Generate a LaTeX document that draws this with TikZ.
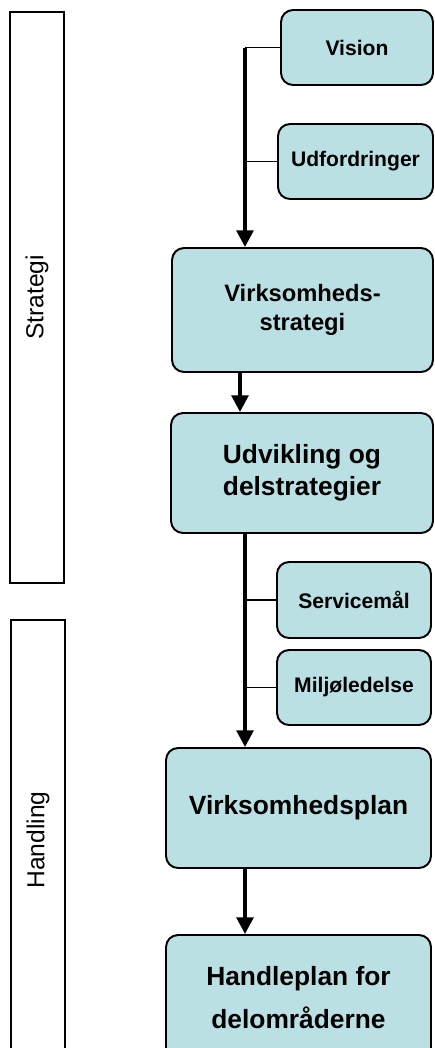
\documentclass[tikz,border=0pt]{standalone}
\usepackage{fontspec}
\setmainfont{Liberation Sans}
\usetikzlibrary{arrows.meta}
\definecolor{boxfill}{RGB}{187,224,227}

\begin{document}
\begin{tikzpicture}[x=0.02cm,y=-0.02cm]
        \tikzset{
        box/.style={rectangle, rounded corners=0.24cm, fill=boxfill, draw,
        line width=1.1pt, align=center},
        sm/.style={box, minimum width=3.08cm, minimum height=1.5cm,
        font=\bfseries\fontsize{12}{14}\selectfont},
        lg/.style={box, minimum width=5.3cm, minimum height=2.4cm,
        font=\bfseries\fontsize{15}{18}\selectfont},
        bar/.style={draw, line width=1.1pt, rotate=90, minimum height=1.08cm,
        font=\fontsize{14}{17}\selectfont},
        c1/.style={line width=1.1pt},
        c2/.style={line width=2.1pt, -{Triangle[length=9.5pt,width=9.5pt]}},
        }
        \useasboundingbox (0,0) rectangle (434,1048);
        \clip (0,0) rectangle (434,1048);

        % phases
        \node[bar, minimum width=11.42cm] (strategi) at (37,297.5) {Strategi};
        \node[bar, minimum width=8.8cm] (handling) at (38,840) {Handling};

        % boxes
        \node[sm, minimum width=3.04cm] (vision) at (357,47.5) {Vision};
        \node[sm, minimum width=3.1cm] (udf) at (355.5,161.5) {Udfordringer};
        \node[lg, minimum width=5.22cm, minimum height=2.48cm,
        font=\bfseries\fontsize{13.5}{16.5}\selectfont] (vstrat) at (302.5,310)
        {Virksomheds-\\strategi};
        \node[lg, minimum width=5.24cm] (udv) at (302,473) {Udvikling og\\delstrategier};
        \node[sm, minimum height=1.52cm] (serv) at (354,600) {Servicemål};
        \node[sm] (milj) at (354,687.5) {Miljøledelse};
        \node[lg] (vplan) at (298.5,808) {Virksomhedsplan};
        \node[lg, minimum height=2.5cm, font=\bfseries\fontsize{15}{24}\selectfont]
        (handle) at (298.5,997.5) {Handleplan for\\delområderne};

        % connectors
        \coordinate (j1) at (245,47.5);
        \coordinate (a1) at (240,0);
        \coordinate (j2) at (245,0);
        \draw[c1] (vision.west) -- (j1);
        \draw[c1] (udf.west) -- (udf.west -| j1);
        \draw[c2] (j1) -- (j1 |- vstrat.north);
        \draw[c2] (vstrat.south -| a1) -- (udv.north -| a1);
        \draw[c1] (serv.west) -- (serv.west -| j2);
        \draw[c1] (milj.west) -- (milj.west -| j2);
        \draw[c2] (udv.south -| j2) -- (vplan.north -| j2);
        \draw[c2] (vplan.south -| j2) -- (handle.north -| j2);
\end{tikzpicture}
\end{document}
